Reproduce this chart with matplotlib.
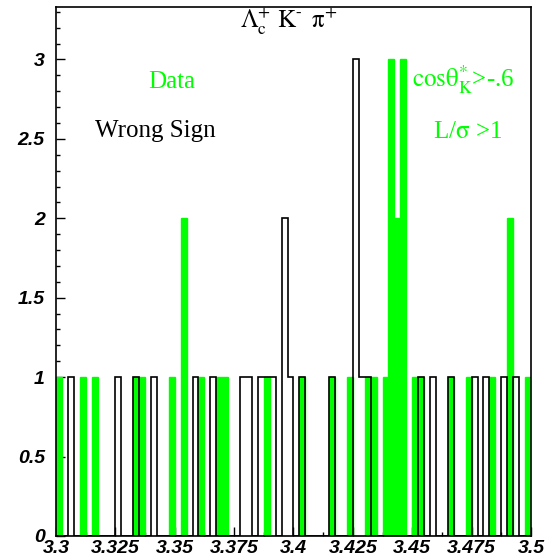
import numpy as np
import matplotlib
matplotlib.use("Agg")
import matplotlib.pyplot as plt
from matplotlib.ticker import MultipleLocator, AutoMinorLocator, FuncFormatter

plt.rcParams["mathtext.fontset"] = "stix"

# Mass window (GeV), 80 bins of 2.5 MeV
x_lo, x_hi, n_bins = 3.3, 3.5, 80

# Right-sign data (green, filled)
data_counts = [
    1, 0, 0, 0, 1, 0, 1, 0, 0, 0, 0, 0, 0, 1, 1, 0, 0, 0, 0, 1,
    0, 2, 0, 0, 1, 0, 0, 1, 1, 0, 0, 0, 0, 0, 0, 1, 0, 0, 0, 0,
    0, 1, 0, 0, 0, 0, 1, 0, 0, 1, 0, 0, 1, 1, 0, 1, 3, 2, 3, 0,
    1, 1, 0, 0, 0, 0, 1, 0, 0, 1, 0, 0, 0, 1, 0, 0, 2, 0, 0, 1,
]

# Wrong-sign combinations (black outline)
wrong_sign_counts = [
    0, 0, 1, 0, 0, 0, 0, 0, 0, 0, 1, 0, 0, 1, 0, 0, 1, 0, 0, 0,
    0, 0, 0, 1, 0, 0, 1, 0, 0, 0, 0, 1, 1, 0, 1, 1, 1, 0, 2, 1,
    0, 1, 0, 0, 0, 0, 1, 0, 0, 0, 3, 1, 1, 0, 0, 0, 0, 0, 0, 0,
    0, 1, 0, 1, 0, 0, 1, 0, 0, 0, 1, 0, 1, 0, 0, 1, 0, 1, 0, 0,
]

y_max = 3.33
green = "#00ff00"

edges = np.linspace(x_lo, x_hi, n_bins + 1)

fig = plt.figure(figsize=(5.46, 5.57), dpi=100)
ax = fig.add_axes([56 / 546, 1 - 536 / 557, 475 / 546, 529 / 557])

ax.stairs(data_counts, edges, fill=True, facecolor=green, edgecolor=green,
          linewidth=1.0, baseline=0, zorder=2)
ax.stairs(wrong_sign_counts, edges, fill=False, color="black",
          linewidth=1.2, baseline=0, zorder=3)

ax.set_xlim(x_lo, x_hi)
ax.set_ylim(0, y_max)

ax.xaxis.set_major_locator(MultipleLocator(0.025))
ax.xaxis.set_minor_locator(AutoMinorLocator(2))
ax.yaxis.set_major_locator(MultipleLocator(0.5))
ax.yaxis.set_minor_locator(AutoMinorLocator(5))
fmt = FuncFormatter(lambda v, p: f"{v:g}")
ax.xaxis.set_major_formatter(fmt)
ax.yaxis.set_major_formatter(fmt)

ax.tick_params(which="both", direction="in", top=False, right=False,
               width=1.0, color="black")
ax.tick_params(which="major", length=6.5)
ax.tick_params(which="minor", length=3.2)
ax.tick_params(axis="x", pad=3)
ax.tick_params(axis="y", pad=8)
for lab in ax.get_xticklabels() + ax.get_yticklabels():
    lab.set_fontfamily("Liberation Sans")
    lab.set_fontweight("bold")
    lab.set_fontstyle("italic")
    lab.set_fontsize(14)

for sp in ax.spines.values():
    sp.set_linewidth(1.2)
    sp.set_zorder(5)

serif = "Liberation Serif"
ax.text(0.387, 0.960, r"$\mathrm{\Lambda_c^{+}\,\,K^{\text{-}}\ \,\pi^{+}}$",
        transform=ax.transAxes, fontsize=18, va="baseline", ha="left",
        color="black")
ax.text(0.194, 0.847, "Data", transform=ax.transAxes, fontsize=18,
        family=serif, color=green, va="baseline", ha="left")
ax.text(0.082, 0.754, "Wrong Sign", transform=ax.transAxes, fontsize=18,
        family=serif, color="black", va="baseline", ha="left")
ax.text(0.749, 0.849, r"$\mathrm{cos\theta_K^{*}}$>-.6",
        transform=ax.transAxes, fontsize=18, family=serif, color=green,
        va="baseline", ha="left")
ax.text(0.794, 0.752, r"L/$\mathrm{\sigma}$ >1", transform=ax.transAxes,
        fontsize=18, family=serif, color=green, va="baseline", ha="left")

fig.savefig("out.png", dpi=100)
